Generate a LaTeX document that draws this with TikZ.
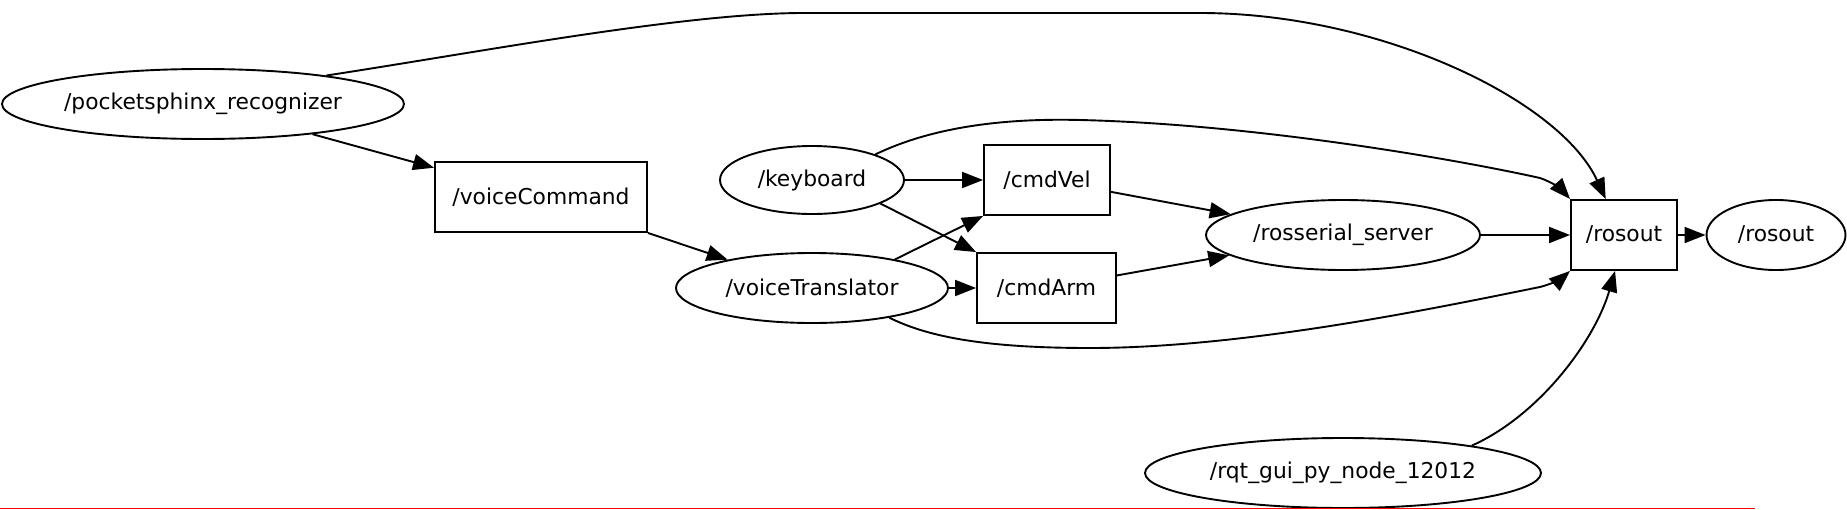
\documentclass[tikz,border=0pt]{standalone}
\usepackage{fontspec}
\setmainfont{DejaVu Sans}
\usetikzlibrary{arrows.meta,shapes.geometric}

\begin{document}
\begin{tikzpicture}[
    x=1pt, y=-1pt,
    line width=1.9pt,
    font=\fontsize{21.8}{26}\selectfont,
    arrowtip/.style={
      -{Triangle[length=21pt,width=16pt]}
    },
    rosnode/.style={
      ellipse, draw, inner sep=0pt, minimum height=70pt
    },
    topic/.style={
      rectangle, draw, inner sep=0pt, minimum height=70pt
    }
  ]
    \useasboundingbox (0,0) rectangle (1847,509);

    % ros nodes
    \node[rosnode, minimum width=402pt] (pocket)    at (203,104)   { /pocketsphinx\_recognizer };
    \node[rosnode, minimum width=184pt, minimum height=68pt] (kbd) at (812,180) { /keyboard };
    \node[rosnode, minimum width=272pt] (vtrans)    at (812,288)   { /voiceTranslator };
    \node[rosnode, minimum width=274pt] (rosserial) at (1343,235)  { /rosserial\_server };
    \node[rosnode, minimum width=139pt] (rosoutell) at (1776,235)  { /rosout };
    \node[rosnode, minimum width=396pt] (rqt)       at (1343,473)  { /rqt\_gui\_py\_node\_12012 };

    % topics
    \node[topic, minimum width=212pt] (vcmd)      at (541,197)    { /voiceCommand };
    \node[topic, minimum width=126pt] (cmdVel)    at (1047,180)   { /cmdVel };
    \node[topic, minimum width=139pt] (cmdArm)    at (1046.5,288) { /cmdArm };
    \node[topic, minimum width=106pt] (rosoutbox) at (1624,235)   { /rosout };

    % straight arrows
    \draw[arrowtip] (pocket)       -- (vcmd);
    \draw[arrowtip] (vcmd)         -- (vtrans);
    \draw[arrowtip] (kbd)          -- (cmdVel);
    \draw[arrowtip] (kbd.-19)      -- (cmdArm.north west);
    \draw[arrowtip] (vtrans.19)    -- (cmdVel.south west);
    \draw[arrowtip] (vtrans)       -- (cmdArm);
    \draw[arrowtip] (cmdVel)       -- (rosserial);
    \draw[arrowtip] (cmdArm)       -- (rosserial);
    \draw[arrowtip] (rosserial)    -- (rosoutbox);
    \draw[arrowtip] (rosoutbox)    -- (rosoutell);

    % curved arrows to /rosout
    \draw[arrowtip] (pocket.13) .. controls (480,52) and (680,14) .. (800,13)
      -- (1200,13) .. controls (1380,13) and (1560,100) .. (rosoutbox.117);
    \draw[arrowtip] (kbd.22) .. controls (930,128) and (1000,118) .. (1080,120)
      .. controls (1250,124) and (1450,158) .. (1540,178)
      .. controls (1552,182) and (1562,190) .. (rosoutbox.north west);
    \draw[arrowtip] (vtrans.-21) .. controls (930,338) and (990,348) .. (1090,348)
      .. controls (1250,348) and (1450,305) .. (1540,287)
      .. controls (1552,284) and (1562,278) .. (rosoutbox.south west);
    \draw[arrowtip] (rqt.12) .. controls (1540,415) and (1595,340) .. (rosoutbox.-104);

    % bottom rule
    \draw[red, line width=1pt] (0,508) -- (1755,508);
\end{tikzpicture}
\end{document}
